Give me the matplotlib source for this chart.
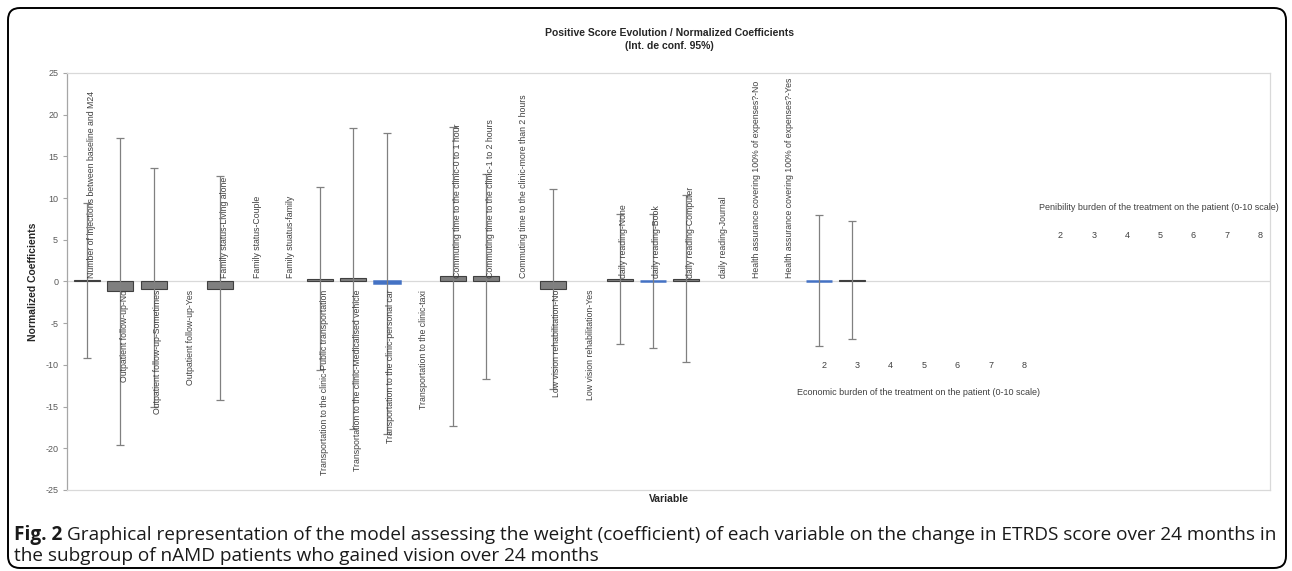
import numpy as np
import matplotlib
matplotlib.use("Agg")
from matplotlib import pyplot as plt
from matplotlib.patches import FancyBboxPatch

plt.rcParams['font.family'] = ['Liberation Sans Narrow', 'Liberation Sans', 'DejaVu Sans']
plt.rcParams['axes.unicode_minus'] = False

# categories of the model (36 slots on the x axis)
variables = [
    "Number of injections between baseline and M24",
    "Outpatient follow-up-No",
    "Outpatient follow-up-Sometimes",
    "Outpatient follow-up-Yes",
    "Family status-Living alone",
    "Family status-Couple",
    "Family stuatus-family",
    "Transportation to the clinic-Public transportation",
    "Transportation to the clinic-Medicalised vehicle",
    "Transportation to the clinic-personal car",
    "Transportation to the clinic-taxi",
    "Commuting time to the clinic-0 to 1 hour",
    "Commuting time to the clinic-1 to 2 hours",
    "Commuting time to the clinic-more than 2 hours",
    "Low vision rehabilitation-No",
    "Low vision rehabilitation-Yes",
    "daily reading-None",
    "daily reading-Book",
    "daily reading-Computer",
    "daily reading-Journal",
    "Health assurance covering 100% of expenses?-No",
    "Health assurance covering 100% of expenses?-Yes",
]
economic_levels = ["2", "3", "4", "5", "6", "7", "8"]
penibility_levels = ["2", "3", "4", "5", "6", "7", "8"]
economic_title = "Economic burden of the treatment on the patient (0-10 scale)"
penibility_title = "Penibility burden of the treatment on the patient (0-10 scale)"

# coefficients and 95% CI (nan = reference level, no bar)
nan = np.nan
coef = [0.15, -1.2, -0.85, nan, -0.85, nan, nan, 0.3, 0.45, -0.15, nan,
        0.6, 0.6, nan, -0.95, nan, 0.35, 0.04, 0.35, nan, nan, nan,
        0.04, 0.2, nan, nan, nan, nan, nan,
        nan, nan, nan, nan, nan, nan, nan]
ci_low = [-9.2, -19.55, -15.1, nan, -14.2, nan, nan, -10.65, -17.7, -18.25, nan,
          -17.3, -11.65, nan, -12.85, nan, -7.45, -7.95, -9.65, nan, nan, nan,
          -7.7, -6.85, nan, nan, nan, nan, nan,
          nan, nan, nan, nan, nan, nan, nan]
ci_high = [9.45, 17.2, 13.6, nan, 12.6, nan, nan, 11.3, 18.45, 17.85, nan,
           18.5, 12.9, nan, 11.1, nan, 8.15, 8.1, 10.35, nan, nan, nan,
           7.95, 7.3, nan, nan, nan, nan, nan,
           nan, nan, nan, nan, nan, nan, nan]

# layout of the rotated variable labels: above (+1) or below (-1) the zero line
label_side = [1, -1, -1, -1, 1, 1, 1, -1, -1, -1, -1,
              1, 1, 1, -1, -1, 1, 1, 1, 1, 1, 1]
blue_bars = [9, 17, 22]

coef = np.array(coef)
ci_low = np.array(ci_low)
ci_high = np.array(ci_high)
x = np.arange(len(coef))
ok = ~np.isnan(coef)

fig = plt.figure(figsize=(12.92, 5.71), dpi=100)
ax = fig.add_axes([0.052, 0.1419, 0.931, 0.7303])

colors = ["#4472c4" if i in blue_bars else "#7f7f7f" for i in x[ok]]
edges = ["#4472c4" if i in blue_bars else "#404040" for i in x[ok]]
widths = [1.8 if i in blue_bars else 0.8 for i in x[ok]]
ax.bar(x[ok], coef[ok], width=0.78, color=colors, edgecolor=edges,
       linewidth=widths, zorder=2)
ax.errorbar(x[ok], coef[ok],
            yerr=[coef[ok] - ci_low[ok], ci_high[ok] - coef[ok]],
            fmt="none", ecolor="#808080", elinewidth=0.9, capsize=3,
            capthick=0.9, zorder=3)

ax.axhline(0, color="#d9d9d9", linewidth=0.9, zorder=1)

for i, (name, side) in enumerate(zip(variables, label_side)):
    if side > 0:
        ax.text(i + 0.12, 0.45, name, rotation=90, ha="center", va="bottom",
                fontsize=6.3, color="#404040", zorder=4)
    else:
        ax.text(i + 0.12, -1.0, name, rotation=90, ha="center", va="top",
                fontsize=6.3, color="#404040", zorder=4)

n_var = len(variables)
for k, lab in enumerate(economic_levels):
    ax.text(n_var + k + 0.15, -10.05, lab, ha="center", va="center",
            fontsize=6.5, color="#404040")
ax.text(n_var + 3, -13.3, economic_title, ha="center", va="center",
        fontsize=6.5, color="#404040")
n_eco = n_var + len(economic_levels)
for k, lab in enumerate(penibility_levels):
    ax.text(n_eco + k + 0.25, 5.55, lab, ha="center", va="center",
            fontsize=6.5, color="#404040")
ax.text(n_eco + 3.2, 8.9, penibility_title, ha="center", va="center",
        fontsize=6.5, color="#404040", clip_on=False)

ax.set_xlim(-0.6, len(coef) - 0.45)
ax.set_ylim(-25, 25)
ax.set_yticks(np.arange(-25, 26, 5))
ax.set_xticks([])
ax.tick_params(axis="y", labelsize=6.5, labelcolor="#595959", color="#a6a6a6",
               length=3, width=0.8)
for s in ["top", "right", "bottom"]:
    ax.spines[s].set_color("#d9d9d9")
ax.spines["left"].set_color("#a6a6a6")
for s in ax.spines.values():
    s.set_linewidth(0.9)

ax.set_ylabel("Normalized Coefficients", fontsize=7.5, fontweight="bold",
              color="#262626")
ax.yaxis.set_label_coords(-0.024, 0.5)
fig.text(0.518, 1 - 499 / 571, "Variable", ha="center", va="center",
         fontsize=7.5, fontweight="bold", color="#262626")
fig.text(0.518, 1 - 33 / 571, "Positive Score Evolution / Normalized Coefficients",
         ha="center", va="center", fontsize=7.5, fontweight="bold", color="#262626")
fig.text(0.518, 1 - 46 / 571, "(Int. de conf. 95%)",
         ha="center", va="center", fontsize=7.5, fontweight="bold", color="#262626")

# caption, sized so the first line ends where the reference ends
cap_font = ['Open Sans', 'DejaVu Sans']
renderer = fig.canvas.get_renderer()
line1 = ("Graphical representation of the model assessing the weight (coefficient) "
         "of each variable on the change in ETRDS score over 24 months in")
line2 = "the subgroup of nAMD patients who gained vision over 24 months"
size = 12.0
for _ in range(3):
    t1 = fig.text(14 / 1292, 1 - 535 / 571, "Fig. 2", ha="left", va="center",
                  fontsize=size, fontweight="bold", family=cap_font, color="#1a1a1a")
    bb = t1.get_window_extent(renderer)
    t2 = fig.text((bb.x1 + 5) / 1292, 1 - 535 / 571, line1, ha="left", va="center",
                  fontsize=size, family=cap_font, color="#1a1a1a")
    end = t2.get_window_extent(renderer).x1
    if abs(end - 1275) < 3:
        break
    t1.remove()
    t2.remove()
    size = size * (1275 - 14) / (end - 14)
fig.text(14 / 1292, 1 - 556 / 571, line2, ha="left", va="center",
         fontsize=size, family=cap_font, color="#1a1a1a")

frame = FancyBboxPatch((8, 3), 1278, 560, boxstyle="round,pad=0,rounding_size=12",
                       transform=None, facecolor="none", edgecolor="black",
                       linewidth=1.4)
fig.patches.append(frame)

fig.savefig("out.png", dpi=100)
